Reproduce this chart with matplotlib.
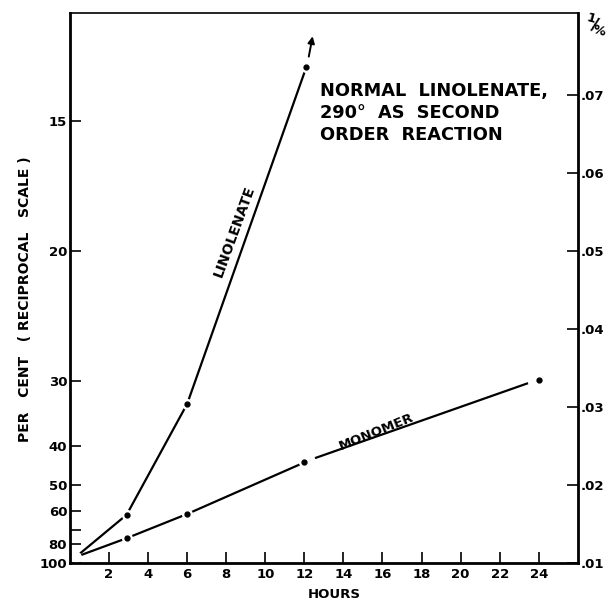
import matplotlib
matplotlib.use('Agg')
from matplotlib import pyplot as plt

# readings are in 1/% (the right hand scale)
lin_hours = [0.3, 2.9, 6.0, 12.1]
lin_recip = [0.0108, 0.0162, 0.0304, 0.0735]
mono_hours = [0.3, 2.9, 6.0, 12.0, 24.0]
mono_recip = [0.0108, 0.0132, 0.0163, 0.0229, 0.0334]

x_ticks = [2, 4, 6, 8, 10, 12, 14, 16, 18, 20, 22, 24]
pct_ticks = [100, 80, 60, 50, 40, 30, 20, 15]
pct_minor = [90, 70]
recip_ticks = [0.01, 0.02, 0.03, 0.04, 0.05, 0.06, 0.07]
recip_labels = ['.01', '.02', '.03', '.04', '.05', '.06', '.07']

plt.rcParams['font.family'] = ['DejaVu Sans']
plt.rcParams['font.weight'] = 'bold'
plt.rcParams['axes.labelweight'] = 'bold'

fig = plt.figure(figsize=(6.14, 6.03), dpi=100)
ax = fig.add_axes([0.114, 0.066, 0.827, 0.912])
ax.set_xlim(0, 26)
ax.set_ylim(0.01, 0.0804)

# hand drawn look: white disc round each point leaves a gap in the line
ax.plot(lin_hours, lin_recip, color='black', lw=1.6, marker='o', ms=8,
        mfc='white', mec='white', mew=0)
ax.plot(mono_hours[:-1], mono_recip[:-1], color='black', lw=1.6, marker='o', ms=8,
        mfc='white', mec='white', mew=0)
ax.plot([mono_hours[-2] + 0.6, mono_hours[-1] - 0.6],
        [mono_recip[-2] + 0.0006, mono_recip[-1] - 0.0004], color='black', lw=1.6)
ax.plot(lin_hours[1:], lin_recip[1:], 'o', color='black', ms=3.5)
ax.plot(mono_hours[1:], mono_recip[1:], 'o', color='black', ms=3.5)
ax.annotate('', xy=(12.45, 0.0778), xytext=(12.2, 0.0745),
            arrowprops=dict(arrowstyle='-|>', color='black', lw=1.4, mutation_scale=10))

ax.text(8.4, 0.0525, 'LINOLENATE', rotation=70, ha='center', va='center', fontsize=10)
ax.text(15.7, 0.0268, 'MONOMER', rotation=22, ha='center', va='center', fontsize=9.5)
ax.text(12.8, 0.0716, 'NORMAL  LINOLENATE,\n290°  AS  SECOND\nORDER  REACTION',
        ha='left', va='top', fontsize=12.8, linespacing=1.3)

for s in ax.spines.values():
    s.set_linewidth(2)
ax.spines['top'].set_linewidth(1.2)

ax.set_xticks(x_ticks)
ax.set_xticklabels([str(t) for t in x_ticks])
ax.set_yticks([1.0 / p for p in pct_ticks])
ax.set_yticklabels([str(p) for p in pct_ticks])
ax.set_yticks([1.0 / p for p in pct_minor], minor=True)
ax.tick_params(axis='both', direction='in', length=8, width=1.2, labelsize=9.5)
ax.tick_params(axis='y', which='minor', direction='in', length=8, width=1.2)
ax.tick_params(axis='y', pad=2)
ax.set_xlabel('HOURS', fontsize=9.5)
ax.xaxis.set_label_coords(0.52, -0.045)
ax.set_ylabel('PER   CENT   ( RECIPROCAL   SCALE )', fontsize=10)
ax.yaxis.set_label_coords(-0.075, 0.48)

ax2 = ax.twinx()
ax2.set_ylim(ax.get_ylim())
ax2.set_yticks(recip_ticks)
ax2.set_yticklabels(recip_labels)
ax2.tick_params(axis='y', direction='in', length=8, width=1.2, labelsize=9.5, pad=2)
for s in ax2.spines.values():
    s.set_visible(False)
fig.text(0.972, 0.958, r'$^{1}\!/\!_{\%}$', ha='center', va='center', fontsize=13, rotation=-15)

fig.savefig('out.png', dpi=100, facecolor='white')
